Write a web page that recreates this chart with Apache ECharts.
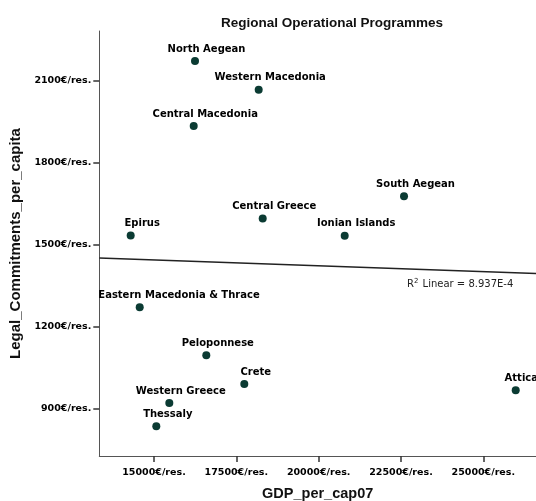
<!DOCTYPE html>
<html>
<head>
<meta charset="utf-8">
<style>
  html, body { margin: 0; padding: 0; background: #fff; }
  #chart { width: 536px; height: 501px; }
</style>
<script src="https://cdn.jsdelivr.net/npm/echarts@6/dist/echarts.min.js"></script>
</head>
<body>
<div id="chart"></div>
<script>
// Regions of Greece: GDP per capita (2007) vs legal commitments per capita
const regions = [
  'North Aegean', 'Western Macedonia', 'Central Macedonia', 'Epirus',
  'Central Greece', 'Ionian Islands', 'South Aegean',
  'Eastern Macedonia & Thrace', 'Peloponnese', 'Crete',
  'Western Greece', 'Thessaly', 'Attica'
];
const gdpPerCap = [
  16245, 18179, 16206, 14292,
  18301, 20791, 22592,
  14566, 16588, 17742,
  15465, 15070, 25984
];
const commitmentsPerCap = [
  2173, 2068, 1935, 1533,
  1596, 1532, 1677,
  1270, 1094, 989,
  919, 834, 966
];

// Linear fit line (end points across the plotted x range)
const fitLine = [[13339, 1451], [26600, 1394]];
const fitLabel = '8.937E-4';

// Tick positions shown on each axis
const xTicks = [15000, 17500, 20000, 22500, 25000];
const yTicks = [900, 1200, 1500, 1800, 2100];

const labelFont = 'bold 10px "DejaVu Sans"';
const labelShift = 11.5;   // labels sit a little to the right of their point
const plotLeft = 99.3;
const labelRightLimit = 538;

const tickFont = {
  fontFamily: 'DejaVu Sans',
  fontWeight: 'bold',
  fontSize: 9.5,
  color: '#000'
};

const chart = echarts.init(document.getElementById('chart'), null, { renderer: 'canvas' });

function buildPoints(offsets) {
  return regions.map((name, i) => ({
    name: name,
    value: [gdpPerCap[i], commitmentsPerCap[i]],
    label: { offset: [offsets ? offsets[i] : labelShift, 0] }
  }));
}

const option = {
  backgroundColor: '#ffffff',
  animation: false,
  title: {
    text: 'Regional Operational Programmes',
    left: 216,
    top: 11,
    textStyle: {
      fontFamily: 'Liberation Sans',
      fontWeight: 'bold',
      fontSize: 13.5,
      color: '#111'
    }
  },
  grid: {
    left: plotLeft,
    top: 31,
    right: 0,
    bottom: 45,
    containLabel: false,
    outerBoundsMode: 'none'
  },
  xAxis: {
    type: 'value',
    min: 13339,
    max: 26600,
    name: 'GDP_per_cap07',
    nameLocation: 'middle',
    nameGap: 30,
    nameTextStyle: {
      fontFamily: 'Liberation Sans',
      fontWeight: 'bold',
      fontSize: 14.5,
      color: '#111'
    },
    splitLine: { show: false },
    axisLine: { show: true, lineStyle: { color: '#555', width: 1 } },
    axisTick: {
      show: true,
      inside: false,
      length: 6,
      customValues: xTicks,
      lineStyle: { color: '#333', width: 1.5 }
    },
    axisLabel: {
      customValues: xTicks,
      margin: 12,
      formatter: v => v + '€/res.',
      ...tickFont
    }
  },
  yAxis: {
    type: 'value',
    min: 725,
    max: 2283,
    name: 'Legal_Commitments_per_capita',
    nameLocation: 'middle',
    nameGap: 69,
    nameRotate: 90,
    nameTextStyle: {
      fontFamily: 'Liberation Sans',
      fontWeight: 'bold',
      fontSize: 15,
      color: '#111'
    },
    splitLine: { show: false },
    axisLine: { show: true, lineStyle: { color: '#555', width: 1 } },
    axisTick: {
      show: true,
      inside: false,
      length: 6,
      customValues: yTicks,
      lineStyle: { color: '#333', width: 1.5 }
    },
    axisLabel: {
      customValues: yTicks,
      margin: 8,
      formatter: v => v + '€/res.',
      ...tickFont
    }
  },
  series: [
    {
      type: 'line',
      data: fitLine,
      showSymbol: false,
      symbol: 'none',
      silent: true,
      lineStyle: { color: '#222', width: 1.6 },
      z: 1
    },
    {
      id: 'regions',
      type: 'scatter',
      data: buildPoints(null),
      symbol: 'circle',
      symbolSize: 8,
      itemStyle: { color: '#0b3b33', opacity: 1 },
      label: {
        show: true,
        position: 'top',
        distance: 3,
        formatter: '{b}',
        fontFamily: 'DejaVu Sans',
        fontWeight: 'bold',
        fontSize: 10,
        color: '#000'
      },
      z: 2
    }
  ],
  graphic: [
    {
      type: 'text',
      left: 407,
      top: 278,
      style: {
        text: 'R{sup|2} Linear = ' + fitLabel,
        fontFamily: 'DejaVu Sans',
        fontSize: 10,
        fill: '#222',
        rich: {
          sup: {
            fontFamily: 'DejaVu Sans',
            fontSize: 7,
            verticalAlign: 'top',
            padding: [0, 1, 5, 0]
          }
        }
      }
    }
  ]
};

chart.setOption(option);

// Keep point labels inside the horizontal extent of the plot
const ctx = document.createElement('canvas').getContext('2d');
ctx.font = labelFont;
const offsets = regions.map((name, i) => {
  const px = chart.convertToPixel({ gridIndex: 0 }, [gdpPerCap[i], commitmentsPerCap[i]])[0];
  const half = ctx.measureText(name).width / 2;
  let off = Math.max(labelShift, plotLeft - 1 - px + half);
  off = Math.min(off, labelRightLimit - px - half);
  return off;
});
chart.setOption({ series: [{ id: 'regions', data: buildPoints(offsets) }] });
</script>
</body>
</html>
